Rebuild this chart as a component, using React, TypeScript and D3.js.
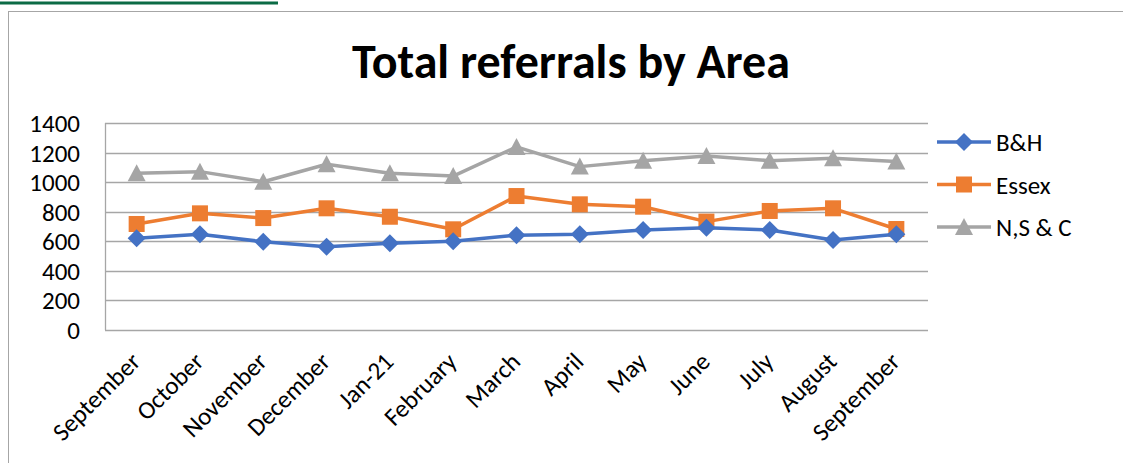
import React, { useEffect, useRef } from "react";
import * as d3 from "d3";

const months = [
  "September", "October", "November", "December", "Jan-21", "February",
  "March", "April", "May", "June", "July", "August", "September",
];
const bh = [620, 647, 597, 563, 586, 600, 641, 647, 676, 692, 676, 609, 647];
const essex = [717, 789, 757, 823, 766, 681, 906, 850, 834, 733, 805, 823, 683];
const nsc = [1060, 1071, 1003, 1121, 1060, 1041, 1238, 1105, 1145, 1177, 1145, 1161, 1140];
const yTicks = [0, 200, 400, 600, 800, 1000, 1200, 1400];

const seriesNames = ["B&H", "Essex", "N,S & C"];
const seriesColors = ["#4472C4", "#ED7D31", "#A5A5A5"];
const seriesShapes = ["diamond", "square", "triangle"];

const FONT = "Calibri, Carlito, Lato, sans-serif";

function marker(sel: any, shape: string, color: string) {
  if (shape === "diamond") {
    sel.append("path").attr("d", "M0,-9L9,0L0,9L-9,0Z").style("fill", color);
  } else if (shape === "square") {
    sel.append("rect").attr("x", -8).attr("y", -8).attr("width", 16).attr("height", 16).style("fill", color);
  } else {
    sel.append("path").attr("d", "M0,-9L9,8L-9,8Z").style("fill", color);
  }
}

export default function App() {
  const ref = useRef<SVGSVGElement>(null);

  useEffect(() => {
    document.body.style.margin = "0";
    const svg = d3.select(ref.current);
    svg.selectAll("*").remove();

    // clipped heading from the page above
    svg.append("line").attr("x1", 0).attr("x2", 278).attr("y1", 3).attr("y2", 3)
      .style("stroke", "#0B6B45").style("stroke-width", 3);

    // chart frame
    svg.append("rect").attr("x", 8.5).attr("y", 11.5).attr("width", 1130).attr("height", 470)
      .style("fill", "white").style("stroke", "#A6A6A6").style("stroke-width", 1);

    svg.append("text").attr("x", 571).attr("y", 78).attr("text-anchor", "middle")
      .style("font-family", FONT).style("font-weight", "bold").style("font-size", "48px")
      .text("Total referrals by Area");

    const left = 105, right = 928, top = 123, bottom = 330;
    const x = d3.scaleBand().domain(months.map((d, i) => String(i))).range([left, right]);
    const y = d3.scaleLinear().domain([0, 1400]).range([bottom, top]);
    const cx = (i: number) => (x(String(i)) as number) + x.bandwidth() / 2;

    const grid = svg.append("g");
    grid.selectAll("line").data(yTicks).join("line")
      .attr("x1", left).attr("x2", right)
      .attr("y1", (d) => Math.round(y(d)) + 0.5).attr("y2", (d) => Math.round(y(d)) + 0.5)
      .style("stroke", "#A6A6A6").style("stroke-width", 1.3);
    svg.append("line").attr("x1", left + 0.5).attr("x2", left + 0.5).attr("y1", top).attr("y2", bottom)
      .style("stroke", "#A6A6A6").style("stroke-width", 1.3);

    svg.append("g").selectAll("text").data(yTicks).join("text")
      .attr("x", 80).attr("y", (d) => y(d) + 9).attr("text-anchor", "end")
      .style("font-family", FONT).style("font-size", "25px")
      .text((d) => d);

    svg.append("g").selectAll("text").data(months).join("text")
      .attr("transform", (d, i) => `translate(${cx(i) - 1},${bottom + 27}) rotate(-45)`)
      .attr("text-anchor", "end").attr("dy", "0.35em")
      .style("font-family", FONT).style("font-size", "25px")
      .text((d) => d);

    const all = [bh, essex, nsc];
    const line = d3.line<number>().x((d, i) => cx(i)).y((d) => y(d));
    // draw order: grey behind, then orange, blue on top
    [2, 1, 0].forEach((s) => {
      const g = svg.append("g");
      g.append("path").attr("d", line(all[s])).style("fill", "none")
        .style("stroke", seriesColors[s]).style("stroke-width", 3.5).style("stroke-linejoin", "round");
      all[s].forEach((v, i) => {
        const m = g.append("g").attr("transform", `translate(${cx(i)},${y(v)})`);
        marker(m, seriesShapes[s], seriesColors[s]);
      });
    });

    const legend = svg.append("g").selectAll("g").data(seriesNames).join("g")
      .attr("transform", (d, i) => `translate(937, ${142 + i * 42.5})`);
    legend.append("line").attr("x1", 0).attr("x2", 54).attr("y1", 0).attr("y2", 0)
      .style("stroke", (d, i) => seriesColors[i]).style("stroke-width", 3.5);
    legend.each(function (d, i) {
      const m = d3.select(this).append("g").attr("transform", "translate(27,0)");
      marker(m, seriesShapes[i], seriesColors[i]);
    });
    legend.append("text").attr("x", 59).attr("y", 9)
      .style("font-family", FONT).style("font-size", "25px")
      .text((d) => d);
  }, []);

  return <svg ref={ref} width={1123} height={463} style={{ display: "block" }} />;
}
